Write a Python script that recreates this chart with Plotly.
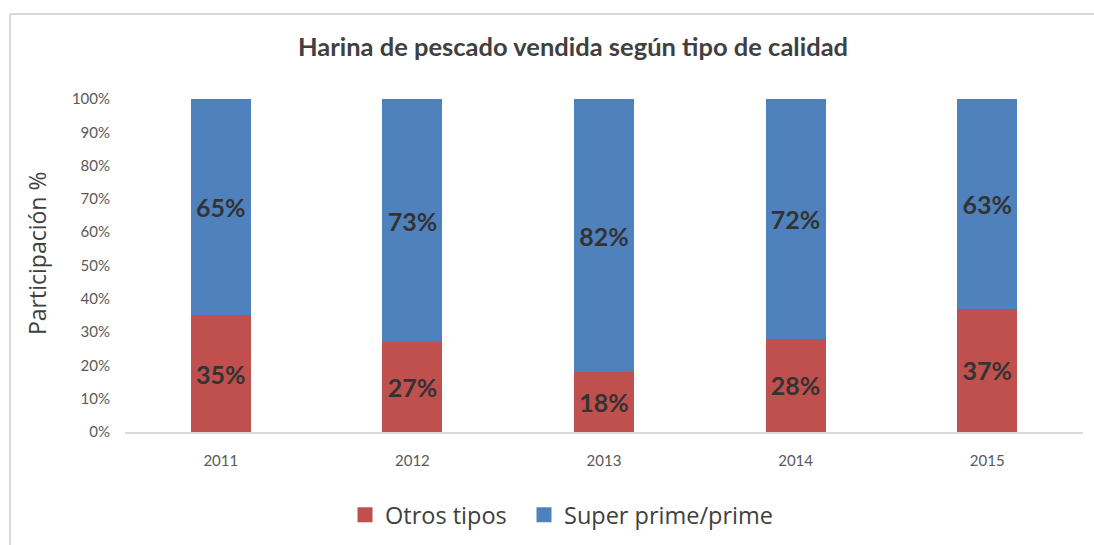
import plotly.graph_objects as go

years = ["2011", "2012", "2013", "2014", "2015"]
otros = [35, 27, 18, 28, 37]
super_prime = [65, 73, 82, 72, 63]
series_names = ["Otros tipos", "Super prime/prime"]
colors = ["#C0504D", "#4F81BD"]
yticks = [0, 10, 20, 30, 40, 50, 60, 70, 80, 90, 100]

FONT = "Lato"
FONT2 = "Open Sans"
W, H = 1094, 545
L, R, T, B = 125, 11, 99, 113
pw, ph = W - L - R, H - T - B

def px_to_paper_x(px):
    return (px - L) / pw

def py_to_paper_y(py):
    return (H - B - py) / ph

fig = go.Figure()
for name, vals, col in zip(series_names, [otros, super_prime], colors):
    fig.add_trace(go.Bar(
        x=years, y=vals, name=name, marker=dict(color=col, line=dict(width=0)),
        text=[f"<b>{v}%</b>" for v in vals], textposition="inside",
        insidetextanchor="middle", textangle=0,
        textfont=dict(family=FONT, size=25, color="#333333"),
        hoverinfo="skip", showlegend=False,
    ))
# legend entries with square markers, each in its own legend box
legend_ids = ["legend", "legend2"]
for name, col, lid in zip(series_names, colors, legend_ids):
    fig.add_trace(go.Scatter(
        x=[None], y=[None], mode="markers", name=name,
        marker=dict(symbol="square", size=15, color=col),
        hoverinfo="skip", legend=lid,
    ))

legend_style = dict(orientation="h", xanchor="left", xref="container",
                    y=30 / H, yanchor="middle", yref="container",
                    font=dict(family=FONT2, size=23.5, color="#404040"),
                    itemwidth=30, bgcolor="rgba(0,0,0,0)")

fig.update_layout(
    barmode="stack", bargap=0.687,
    width=W, height=H,
    margin=dict(l=L, r=R, t=T, b=B),
    paper_bgcolor="white", plot_bgcolor="white",
    font=dict(family=FONT, color="#595959"),
    title=dict(text="<b>Harina de pescado vendida según tipo de calidad</b>",
               x=573 / W, xanchor="center", xref="container",
               y=1 - 47 / H, yanchor="middle", yref="container",
               font=dict(family=FONT, size=25.5, color="#404040")),
    yaxis=dict(range=[0, 100], tickvals=yticks, ticktext=[f"{v}%" for v in yticks],
               showgrid=False, zeroline=False, showline=False,
               tickfont=dict(family=FONT, size=15, color="#595959"),
               ticks="", ticklabelstandoff=14),
    xaxis=dict(showgrid=False, showline=True, linecolor="#D9D9D9", linewidth=2,
               ticks="", tickfont=dict(family=FONT, size=15, color="#595959"),
               ticklabelstandoff=14),
    legend=dict(x=(367 - 22) / W, **legend_style),
    legend2=dict(x=(546 - 22) / W, **legend_style),
    showlegend=True,
)

fig.add_annotation(text="Participación %", textangle=-90,
                   xref="paper", yref="paper",
                   x=px_to_paper_x(37), y=py_to_paper_y(254),
                   xanchor="center", yanchor="middle", showarrow=False,
                   font=dict(family=FONT2, size=23, color="#404040"))

fig.add_shape(type="line", xref="paper", yref="paper",
              x0=px_to_paper_x(10), x1=px_to_paper_x(W + 5),
              y0=py_to_paper_y(14), y1=py_to_paper_y(14),
              line=dict(color="#D9D9D9", width=2))
fig.add_shape(type="line", xref="paper", yref="paper",
              x0=px_to_paper_x(10), x1=px_to_paper_x(10),
              y0=py_to_paper_y(14), y1=py_to_paper_y(H + 5),
              line=dict(color="#D9D9D9", width=2))

fig.write_html("out.html", config={"displayModeBar": False},
               post_script="document.body.style.margin='0';document.body.style.overflow='hidden';")
